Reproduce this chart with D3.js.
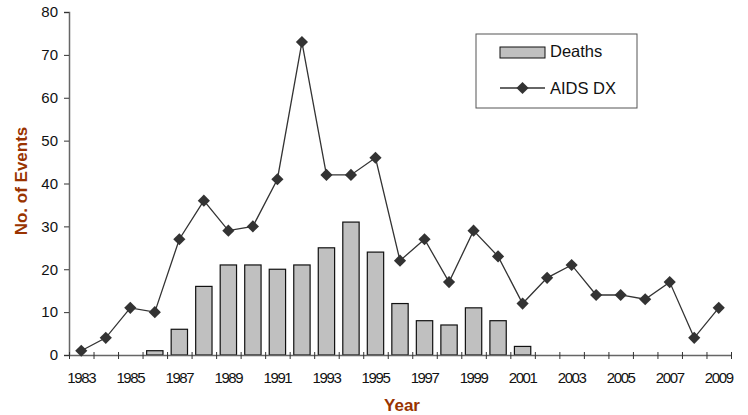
<!DOCTYPE html>
<html>
<head>
<meta charset="utf-8">
<script src="https://cdn.jsdelivr.net/npm/d3@7"></script>
<style>
  body { margin: 0; background: #fff; }
  text { font-family: "Liberation Sans", Arial, sans-serif; }
</style>
</head>
<body>
<div id="chart"></div>
<script>
var years = d3.range(1983, 2010);
var deaths = [0, 0, 0, 1, 6, 16, 21, 21, 20, 21, 25, 31, 24, 12, 8, 7, 11, 8, 2,
  null, null, null, null, null, null, null, null];
var aidsDx = [1, 4, 11, 10, 27, 36, 29, 30, 41, 73, 42, 42, 46, 22, 27, 17, 29, 23, 12,
  18, 21, 14, 14, 13, 17, 4, 11];
var yTicks = [0, 10, 20, 30, 40, 50, 60, 70, 80];

var svgWidth = 748;
var svgHeight = 415;
var margin = { top: 12, right: 17, bottom: 60, left: 69 };
var width = svgWidth - margin.left - margin.right;
var height = svgHeight - margin.top - margin.bottom;

var svg = d3.select("#chart")
  .append("svg")
  .attr("width", svgWidth)
  .attr("height", svgHeight);

var chartGroup = svg.append("g")
  .attr("transform", `translate(${margin.left}, ${margin.top})`);

var xBand = d3.scaleBand()
  .domain(years)
  .range([0, width])
  .paddingInner(1 / 3)
  .paddingOuter(1 / 6);

var xEdge = d3.scaleLinear()
  .domain([0, years.length])
  .range([0, width]);

var yLinearScale = d3.scaleLinear()
  .domain([0, 80])
  .range([height, 0]);

// bars
var barData = years.map((y, i) => ({ year: y, v: deaths[i] })).filter(d => d.v !== null && d.v > 0);
chartGroup.selectAll("rect.bar")
  .data(barData)
  .enter()
  .append("rect")
  .attr("class", "bar")
  .attr("x", d => xBand(d.year))
  .attr("y", d => yLinearScale(d.v))
  .attr("width", xBand.bandwidth())
  .attr("height", d => height - yLinearScale(d.v))
  .attr("fill", "#c0c0c0")
  .attr("stroke", "#111")
  .attr("stroke-width", 1.2);

// y axis
var leftAxis = d3.axisLeft(yLinearScale)
  .tickValues(yTicks)
  .tickSize(5)
  .tickPadding(6);
var yAxisG = chartGroup.append("g").call(leftAxis);
yAxisG.select(".domain").attr("stroke", "#666").attr("stroke-width", 1.5);
yAxisG.selectAll(".tick line").attr("stroke", "#333");
yAxisG.selectAll("text")
  .style("font-size", "15px")
  .attr("fill", "#111");

// x axis: tick marks between years
var edgeAxis = d3.axisBottom(xEdge)
  .tickValues(d3.range(years.length + 1))
  .tickFormat("")
  .tickSizeOuter(0);
var xAxisG = chartGroup.append("g")
  .attr("transform", `translate(0, ${height})`)
  .call(edgeAxis);
xAxisG.select(".domain").attr("stroke", "#666").attr("stroke-width", 1.5);
xAxisG.selectAll(".tick line")
  .attr("y1", -3)
  .attr("y2", 4)
  .attr("stroke", "#333");

// x labels at odd years
var labelAxis = d3.axisBottom(xBand)
  .tickSize(0)
  .tickPadding(17)
  .tickFormat(d => (d % 2 === 1 ? d : ""));
var labelG = chartGroup.append("g")
  .attr("transform", `translate(0, ${height})`)
  .call(labelAxis);
labelG.select(".domain").remove();
labelG.selectAll("text")
  .style("font-size", "15px")
  .style("letter-spacing", "-1.4px")
  .attr("fill", "#111");

// line
var pts = years.map((y, i) => ({ year: y, v: aidsDx[i] }));
var line = d3.line()
  .x(d => xBand(d.year) + xBand.bandwidth() / 2)
  .y(d => yLinearScale(d.v));

chartGroup.append("path")
  .datum(pts)
  .attr("d", line)
  .attr("fill", "none")
  .attr("stroke", "#333")
  .attr("stroke-width", 1.3);

var diamond = d3.symbol().type(d3.symbolSquare).size(74);
chartGroup.selectAll("path.pt")
  .data(pts)
  .enter()
  .append("path")
  .attr("class", "pt")
  .attr("d", diamond)
  .attr("transform", d => `translate(${xBand(d.year) + xBand.bandwidth() / 2}, ${yLinearScale(d.v)}) rotate(45)`)
  .attr("fill", "#333");

// legend
var legend = svg.append("g").attr("transform", "translate(476, 34)");
legend.append("rect")
  .attr("width", 161)
  .attr("height", 74)
  .attr("fill", "#fff")
  .attr("stroke", "#555")
  .attr("stroke-width", 1);
legend.append("rect")
  .attr("x", 24).attr("y", 13)
  .attr("width", 45).attr("height", 11)
  .attr("fill", "#c0c0c0")
  .attr("stroke", "#111");
legend.append("text")
  .attr("x", 74).attr("y", 23)
  .style("font-size", "16.5px")
  .attr("fill", "#111")
  .text("Deaths");
legend.append("line")
  .attr("x1", 24).attr("x2", 69)
  .attr("y1", 54).attr("y2", 54)
  .attr("stroke", "#333").attr("stroke-width", 1.3);
legend.append("path")
  .attr("d", diamond)
  .attr("transform", "translate(46.5, 54) rotate(45)")
  .attr("fill", "#333");
legend.append("text")
  .attr("x", 74).attr("y", 60)
  .style("font-size", "16.5px")
  .attr("fill", "#111")
  .text("AIDS DX");

// axis titles
svg.append("text")
  .attr("transform", "translate(27, 181) rotate(-90)")
  .attr("text-anchor", "middle")
  .style("font-size", "17px")
  .style("font-weight", "bold")
  .attr("fill", "#993300")
  .text("No. of Events");

svg.append("text")
  .attr("x", 402)
  .attr("y", 411)
  .attr("text-anchor", "middle")
  .style("font-size", "17px")
  .style("font-weight", "bold")
  .attr("fill", "#993300")
  .text("Year");
</script>
</body>
</html>
